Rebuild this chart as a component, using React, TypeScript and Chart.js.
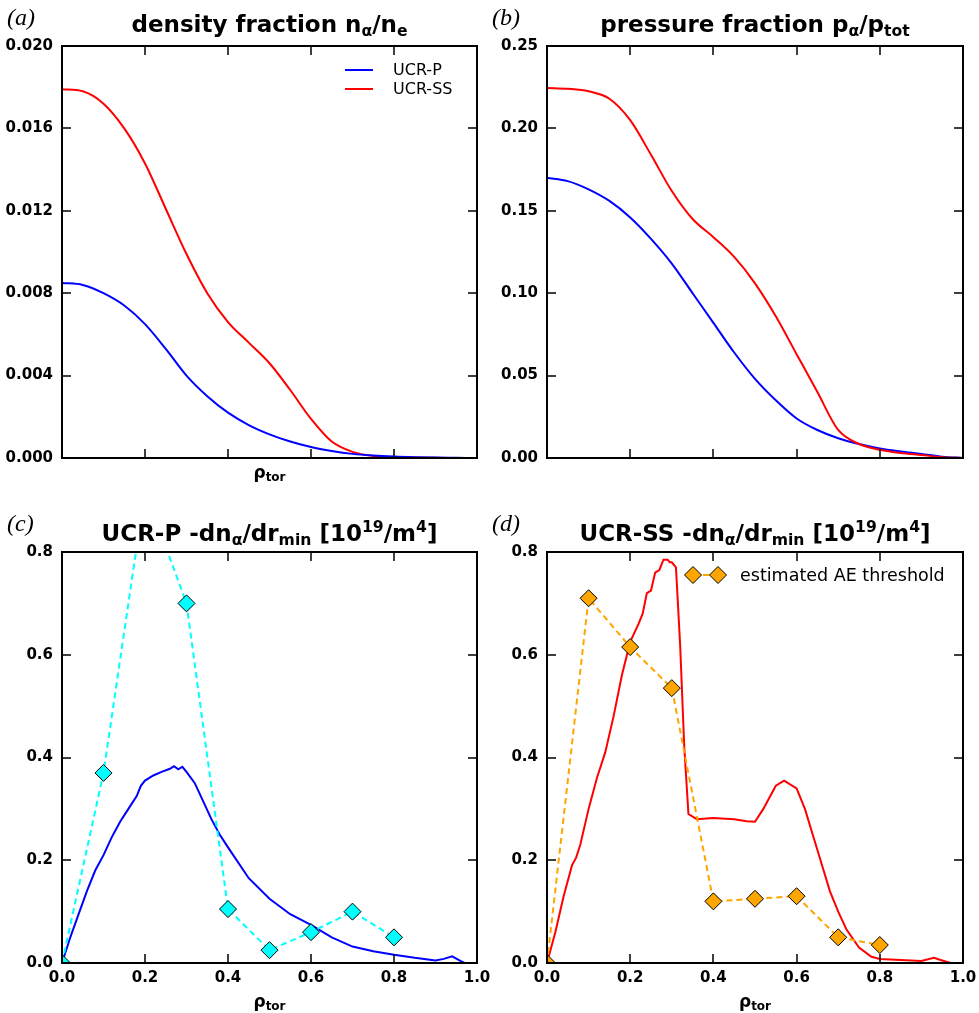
import React, { useEffect, useRef } from "react";
import { Chart, registerables } from "chart.js";
Chart.register(...registerables);

// ---------- data ----------
const rhoAB = [0, 0.05, 0.1, 0.15, 0.2, 0.25, 0.3, 0.35, 0.4, 0.45, 0.5, 0.55, 0.6, 0.65, 0.7, 0.75, 0.8, 0.85, 0.9, 0.95, 1.0];
const nAlphaP = [0.0085, 0.0084, 0.008, 0.0074, 0.0065, 0.0053, 0.004, 0.003, 0.0022, 0.0016, 0.00115, 0.0008, 0.00053, 0.00034, 0.0002, 0.00012, 0.00007, 0.00004, 0.00002, 0.00001, 0];
const nAlphaSS = [0.0179, 0.0178, 0.0172, 0.016, 0.0143, 0.0121, 0.0099, 0.008, 0.0066, 0.0056, 0.0046, 0.0033, 0.0019, 0.0008, 0.0003, 0.0001, 0.00004, 0.00002, 0.00001, 0, 0];
const pAlphaP = [0.17, 0.168, 0.163, 0.156, 0.146, 0.133, 0.118, 0.1, 0.082, 0.064, 0.048, 0.035, 0.024, 0.017, 0.012, 0.0085, 0.0058, 0.004, 0.0025, 0.0008, 0];
const pAlphaSS = [0.2245, 0.224, 0.2225, 0.218, 0.205, 0.184, 0.162, 0.145, 0.134, 0.122, 0.106, 0.086, 0.063, 0.04, 0.017, 0.0085, 0.005, 0.003, 0.0018, 0.0005, 0];

const rhoC = [0, 0.02, 0.04, 0.06, 0.08, 0.1, 0.12, 0.14, 0.16, 0.18, 0.19, 0.2, 0.22, 0.24, 0.26, 0.27, 0.28, 0.29, 0.3, 0.32, 0.34, 0.36, 0.38, 0.4, 0.45, 0.5, 0.55, 0.6, 0.65, 0.7, 0.75, 0.8, 0.85, 0.9, 0.92, 0.94, 0.96, 0.97, 1.0];
const dndrP = [0, 0.05, 0.095, 0.14, 0.18, 0.21, 0.245, 0.275, 0.3, 0.325, 0.345, 0.355, 0.365, 0.372, 0.378, 0.383, 0.377, 0.382, 0.372, 0.35, 0.315, 0.28, 0.25, 0.225, 0.165, 0.125, 0.095, 0.074, 0.05, 0.032, 0.023, 0.016, 0.01, 0.005, 0.008, 0.013, 0.004, 0, 0];

const rhoD = [0, 0.02, 0.04, 0.06, 0.07, 0.08, 0.1, 0.12, 0.14, 0.16, 0.18, 0.2, 0.22, 0.23, 0.24, 0.25, 0.26, 0.27, 0.28, 0.29, 0.295, 0.3, 0.31, 0.32, 0.33, 0.34, 0.36, 0.4, 0.45, 0.48, 0.5, 0.52, 0.55, 0.57, 0.6, 0.62, 0.65, 0.68, 0.7, 0.72, 0.75, 0.78, 0.8, 0.85, 0.9, 0.93, 0.95, 0.97, 1.0];
const dndrSS = [0, 0.06, 0.13, 0.19, 0.205, 0.23, 0.3, 0.36, 0.41, 0.48, 0.56, 0.625, 0.66, 0.68, 0.72, 0.725, 0.76, 0.765, 0.785, 0.785, 0.78, 0.78, 0.77, 0.62, 0.42, 0.29, 0.28, 0.282, 0.28, 0.276, 0.275, 0.3, 0.345, 0.355, 0.34, 0.3, 0.22, 0.14, 0.1, 0.065, 0.03, 0.012, 0.008, 0.006, 0.004, 0.01, 0.005, 0, 0];

const rhoAE = [0, 0.1, 0.2, 0.3, 0.4, 0.5, 0.6, 0.7, 0.8];
const aeThreshP = [0, 0.37, 0.92, 0.7, 0.105, 0.025, 0.06, 0.1, 0.05];
const aeThreshSS = [0, 0.71, 0.615, 0.535, 0.12, 0.125, 0.13, 0.05, 0.035];

const xTicks = [0, 0.2, 0.4, 0.6, 0.8, 1.0];
const yTicksA = [0, 0.004, 0.008, 0.012, 0.016, 0.02];
const yTicksB = [0, 0.05, 0.1, 0.15, 0.2, 0.25];
const yTicksCD = [0, 0.2, 0.4, 0.6, 0.8];

// ---------- helpers ----------
const FONT = "'DejaVu Sans', sans-serif";
const zip = (xs: number[], ys: number[]) => xs.map((x, i) => ({ x, y: ys[i] }));

const frameTicks = {
  id: "frameTicks",
  afterDatasetsDraw(chart: any) {
    const { ctx, chartArea: a, scales } = chart;
    const xs = scales.x;
    const ys = scales.y;
    const L = 9;
    ctx.save();
    ctx.strokeStyle = "#000";
    ctx.lineWidth = 1.5;
    ctx.beginPath();
    xs.ticks.forEach((t: any) => {
      const px = Math.round(xs.getPixelForValue(t.value));
      ctx.moveTo(px, a.bottom);
      ctx.lineTo(px, a.bottom - L);
      ctx.moveTo(px, a.top);
      ctx.lineTo(px, a.top + L);
    });
    ys.ticks.forEach((t: any) => {
      const py = Math.round(ys.getPixelForValue(t.value));
      ctx.moveTo(a.left, py);
      ctx.lineTo(a.left + L, py);
      ctx.moveTo(a.right, py);
      ctx.lineTo(a.right - L, py);
    });
    ctx.stroke();
    ctx.lineWidth = 2;
    ctx.strokeRect(a.left, a.top, a.right - a.left, a.bottom - a.top);
    ctx.restore();
  },
};

const PAD_L = 60;
const PAD_T = 26;
const PAD_R = 26;
const PAD_B = 32;

type PanelProps = {
  left: number;
  top: number;
  w: number;
  h: number;
  datasets: any[];
  yMax: number;
  yTicks: number[];
  yDigits: number;
  showX: boolean;
};

function Panel({ left, top, w, h, datasets, yMax, yTicks, yDigits, showX }: PanelProps) {
  const ref = useRef<HTMLCanvasElement | null>(null);
  useEffect(() => {
    if (!ref.current) return;
    const chart = new Chart(ref.current, {
      type: "line",
      data: { datasets },
      options: {
        animation: false,
        responsive: false,
        layout: { padding: { top: PAD_T, right: PAD_R, left: 0, bottom: 0 } },
        plugins: { legend: { display: false }, tooltip: { enabled: false } },
        scales: {
          x: {
            type: "linear",
            min: 0,
            max: 1,
            grid: { display: false, drawTicks: false },
            border: { display: false },
            afterBuildTicks: (s: any) => {
              s.ticks = xTicks.map((v) => ({ value: v }));
            },
            afterFit: (s: any) => {
              s.height = PAD_B;
            },
            ticks: {
              display: showX,
              padding: 6,
              maxRotation: 0,
              autoSkip: false,
              color: "#000",
              font: { family: FONT, size: 15, weight: "bold" },
              callback: (v: any) => Number(v).toFixed(1),
            },
          },
          y: {
            type: "linear",
            min: 0,
            max: yMax,
            grid: { display: false, drawTicks: false },
            border: { display: false },
            afterBuildTicks: (s: any) => {
              s.ticks = yTicks.map((v) => ({ value: v }));
            },
            afterFit: (s: any) => {
              s.width = PAD_L;
            },
            ticks: {
              padding: 9,
              autoSkip: false,
              color: "#000",
              font: { family: FONT, size: 15, weight: "bold" },
              callback: (v: any) => Number(v).toFixed(yDigits),
            },
          },
        },
      },
      plugins: [frameTicks],
    } as any);
    return () => chart.destroy();
  }, []);
  const cw = w + PAD_L + PAD_R;
  const ch = h + PAD_T + PAD_B;
  return (
    <canvas
      ref={ref}
      width={cw}
      height={ch}
      style={{ position: "absolute", left: left - PAD_L, top: top - PAD_T, width: cw, height: ch }}
    />
  );
}

const sub = (t: string) => (
  <span style={{ fontSize: "0.68em", verticalAlign: "-0.28em" }}>{t}</span>
);
const sup = (t: string) => (
  <span style={{ fontSize: "0.68em", verticalAlign: "0.55em" }}>{t}</span>
);

function Title({ left, w, top, children }: any) {
  return (
    <div
      style={{
        position: "absolute",
        left,
        width: w,
        top,
        textAlign: "center",
        fontFamily: FONT,
        fontWeight: "bold",
        fontSize: 23,
        lineHeight: 1,
        whiteSpace: "nowrap",
        color: "#000",
      }}
    >
      {children}
    </div>
  );
}

function PanelLabel({ left, top, text }: any) {
  return (
    <div
      style={{
        position: "absolute",
        left,
        top,
        fontFamily: "'Liberation Serif', serif",
        fontStyle: "italic",
        fontSize: 24,
        lineHeight: 1,
        color: "#000",
      }}
    >
      {text}
    </div>
  );
}

function XLabel({ left, w, top }: any) {
  return (
    <div
      style={{
        position: "absolute",
        left,
        width: w,
        top,
        textAlign: "center",
        fontFamily: FONT,
        fontWeight: "bold",
        fontSize: 17,
        lineHeight: 1,
        color: "#000",
      }}
    >
      ρ<span style={{ fontSize: 12, verticalAlign: "-0.25em" }}>tor</span>
    </div>
  );
}

const lineDs = (label: string, xs: number[], ys: number[], color: string, smooth: boolean) => ({
  label,
  data: zip(xs, ys),
  borderColor: color,
  backgroundColor: color,
  borderWidth: 2,
  pointRadius: 0,
  fill: false,
  clip: 0,
  tension: smooth ? 0.4 : 0,
  cubicInterpolationMode: smooth ? "monotone" : "default",
});

const aeDs = (label: string, ys: number[], color: string) => ({
  label,
  data: zip(rhoAE, ys),
  borderColor: color,
  backgroundColor: color,
  borderWidth: 2,
  borderDash: [6, 4],
  pointStyle: "rectRot",
  pointRadius: 8.5,
  pointBackgroundColor: color,
  pointBorderColor: "#000",
  pointBorderWidth: 1,
  fill: false,
  clip: 0,
  tension: 0,
});

export default function App() {
  const A = { left: 62, top: 46, w: 415, h: 412 };
  const B = { left: 547, top: 46, w: 416, h: 412 };
  const C = { left: 62, top: 552, w: 415, h: 411 };
  const D = { left: 547, top: 552, w: 416, h: 411 };
  return (
    <div style={{ position: "absolute", left: 0, top: 0, width: 979, height: 1013, background: "#fff", overflow: "hidden" }}>
      <Panel
        {...A}
        yMax={0.02}
        yTicks={yTicksA}
        yDigits={3}
        showX={false}
        datasets={[
          lineDs("UCR-P", rhoAB, nAlphaP, "#0000ff", true),
          lineDs("UCR-SS", rhoAB, nAlphaSS, "#ff0000", true),
        ]}
      />
      <Panel
        {...B}
        yMax={0.25}
        yTicks={yTicksB}
        yDigits={2}
        showX={false}
        datasets={[
          lineDs("UCR-SS", rhoAB, pAlphaSS, "#ff0000", true),
          lineDs("UCR-P", rhoAB, pAlphaP, "#0000ff", true),
        ]}
      />
      <Panel
        {...C}
        yMax={0.8}
        yTicks={yTicksCD}
        yDigits={1}
        showX={true}
        datasets={[
          aeDs("estimated AE threshold", aeThreshP, "#00ffff"),
          lineDs("UCR-P", rhoC, dndrP, "#0000ff", false),
        ]}
      />
      <Panel
        {...D}
        yMax={0.8}
        yTicks={yTicksCD}
        yDigits={1}
        showX={true}
        datasets={[
          aeDs("estimated AE threshold", aeThreshSS, "#ffa500"),
          lineDs("UCR-SS", rhoD, dndrSS, "#ff0000", false),
        ]}
      />

      {/* panel labels */}
      <PanelLabel left={7} top={5} text="(a)" />
      <PanelLabel left={492} top={5} text="(b)" />
      <PanelLabel left={7} top={511} text="(c)" />
      <PanelLabel left={492} top={511} text="(d)" />

      {/* titles */}
      <Title left={A.left} w={A.w} top={13}>
        density fraction n{sub("α")}/n{sub("e")}
      </Title>
      <Title left={B.left} w={B.w} top={13}>
        pressure fraction p{sub("α")}/p{sub("tot")}
      </Title>
      <Title left={C.left} w={C.w} top={519}>
        UCR-P -dn{sub("α")}/dr{sub("min")} [10{sup("19")}/m{sup("4")}]
      </Title>
      <Title left={D.left} w={D.w} top={519}>
        UCR-SS -dn{sub("α")}/dr{sub("min")} [10{sup("19")}/m{sup("4")}]
      </Title>

      {/* x labels */}
      <XLabel left={A.left} w={A.w} top={464} />
      <XLabel left={C.left} w={C.w} top={993} />
      <XLabel left={D.left} w={D.w} top={993} />

      {/* legend (a) */}
      <div style={{ position: "absolute", left: 345, top: 69, width: 28, height: 2, background: "#0000ff" }} />
      <div style={{ position: "absolute", left: 345, top: 88, width: 28, height: 2, background: "#ff0000" }} />
      <div style={{ position: "absolute", left: 393, top: 60, fontFamily: FONT, fontSize: 16, lineHeight: "20px", color: "#000" }}>UCR-P</div>
      <div style={{ position: "absolute", left: 393, top: 79, fontFamily: FONT, fontSize: 16, lineHeight: "20px", color: "#000" }}>UCR-SS</div>

      {/* legend (d) */}
      <svg style={{ position: "absolute", left: 680, top: 563 }} width={52} height={24}>
        <line x1={13} y1={12} x2={38} y2={12} stroke="#ffa500" strokeWidth={2} strokeDasharray="6 4" />
        <polygon points="13,3.5 21.5,12 13,20.5 4.5,12" fill="#ffa500" stroke="#000" strokeWidth={1} />
        <polygon points="38,3.5 46.5,12 38,20.5 29.5,12" fill="#ffa500" stroke="#000" strokeWidth={1} />
      </svg>
      <div style={{ position: "absolute", left: 740, top: 564, fontFamily: FONT, fontSize: 17.5, lineHeight: "22px", color: "#000" }}>
        estimated AE threshold
      </div>
    </div>
  );
}
